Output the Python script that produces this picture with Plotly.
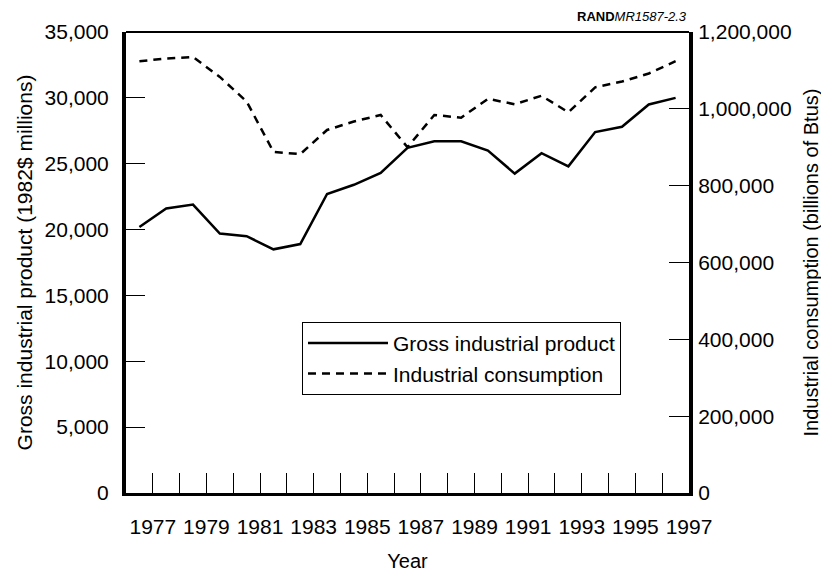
import plotly.graph_objects as go

# data years (plotted at mid-year)
years = list(range(1976, 1997))
gross_product = [20200, 21600, 21900, 19700, 19500, 18500, 18900, 22700, 23400, 24300,
                 26200, 26700, 26700, 26000, 24250, 25800, 24800, 27400, 27800, 29500, 30000]
consumption = [1124000, 1131000, 1135000, 1083000, 1019000, 888000, 882000, 945000, 967000,
               984000, 900000, 984000, 977000, 1026000, 1012000, 1034000, 991000, 1056000,
               1071000, 1092000, 1124000]
label_years = list(range(1977, 1998, 2))

font = "Liberation Sans, Arial, Helvetica, sans-serif"
x_mid = [y + 0.5 for y in years]

fig = go.Figure()
fig.add_trace(go.Scatter(
    x=x_mid, y=gross_product, name="Gross industrial product", legendgroup="a",
    mode="lines", line=dict(color="black", width=2.5)
))
fig.add_trace(go.Scatter(
    x=x_mid, y=consumption, name="Industrial consumption", yaxis="y2", legendgroup="b",
    mode="lines", line=dict(color="black", width=2.5, dash="8px,6px")
))

# the page body adds an 8px offset, so the figure is 8px smaller than the window
fig.update_layout(
    width=821, height=566,
    margin=dict(l=118, r=140, t=24, b=81),
    plot_bgcolor="white", paper_bgcolor="white",
    font=dict(family=font, size=21, color="black"),
    showlegend=True,
    legend=dict(
        x=0.3126, y=0.371, xanchor="left", yanchor="top",
        bgcolor="white", bordercolor="black", borderwidth=1,
        font=dict(size=21), tracegroupgap=0, itemwidth=80
    ),
    xaxis=dict(
        range=[1976, 1997], automargin=False,
        tickmode="array", tickvals=label_years, ticktext=[str(y) for y in label_years],
        ticks="inside", ticklen=20, tickwidth=1, tickcolor="black",
        minor=dict(dtick=1, tick0=1976, ticks="inside", ticklen=20, tickwidth=1, tickcolor="black"),
        showline=True, linecolor="black", linewidth=3,
        showgrid=False, zeroline=False,
        ticklabelstandoff=13,
        title=dict(text="Year", standoff=17, font=dict(size=20))
    ),
    yaxis=dict(
        range=[0, 35000], dtick=5000, tickformat=",", automargin=False,
        ticks="inside", ticklen=19, tickwidth=1, tickcolor="black",
        showline=True, linecolor="black", linewidth=4,
        showgrid=False, zeroline=False,
        ticklabelstandoff=9,
        title=dict(text="Gross industrial product (1982$ millions)", standoff=7, font=dict(size=21))
    ),
    yaxis2=dict(
        range=[0, 1200000], dtick=200000, tickformat=",", automargin=False,
        overlaying="y", side="right",
        ticks="inside", ticklen=20, tickwidth=1, tickcolor="black",
        showline=True, linecolor="black", linewidth=4,
        showgrid=False, zeroline=False,
        ticklabelstandoff=1,
        title=dict(text="Industrial consumption (billions of Btus)", standoff=14, font=dict(size=20))
    ),
    shapes=[dict(type="line", xref="paper", yref="paper", x0=0, x1=1, y0=1, y1=1,
                 line=dict(color="black", width=2))],
    annotations=[dict(
        text="<b>RAND</b><i>MR1587-2.3</i>", xref="paper", yref="paper",
        x=1, y=1, xanchor="right", yanchor="bottom", yshift=6, showarrow=False,
        font=dict(size=13, family=font)
    )]
)

fig.write_html("out.html")
